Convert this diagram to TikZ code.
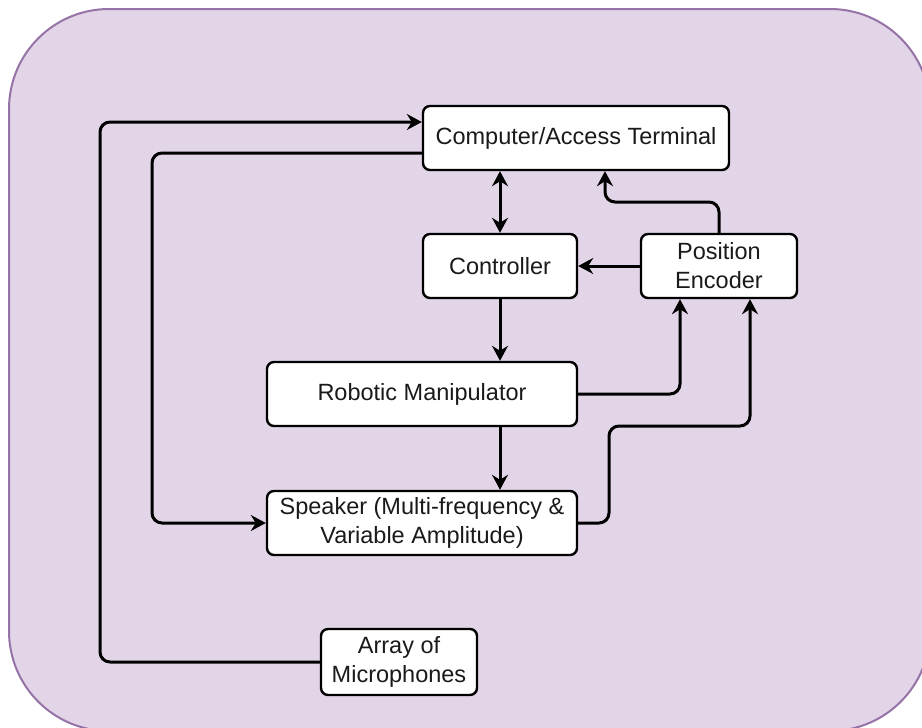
\documentclass[tikz,border=0pt]{standalone}
\usepackage{fontspec}
\setmainfont{Liberation Sans}
\usetikzlibrary{arrows.meta}
\definecolor{panelfill}{HTML}{E1D5E7}
\definecolor{panelline}{HTML}{9673A6}
\definecolor{inktext}{HTML}{1A1A1A}
\tikzset{
  block/.style={draw=black, fill=white, line width=2.4pt, rounded corners=7pt,
    align=center, inner sep=2pt, text=inktext, font=\fontsize{23.5}{29}\selectfont},
  link/.style={draw=black, line width=3pt, rounded corners=10pt},
  tip/.tip={Stealth[length=15pt,width=16pt,inset=5pt]},
  arr/.style={link, -tip},
  darr/.style={link, tip-tip},
}
\begin{document}
\begin{tikzpicture}[x=1pt, y=-1pt]
  \useasboundingbox (0,0) rectangle (922,728);
  \clip (0,0) rectangle (922,728);
  % backdrop panel
  \draw[fill=panelfill, draw=panelline, line width=2pt, rounded corners=100pt]
    (9,9) rectangle (930,731);

  % blocks
  \node[block, minimum width=306pt, minimum height=64pt] (comp) at (576,138) {Computer/Access Terminal};
  \node[block, minimum width=154pt, minimum height=64pt] (ctrl) at (500,266) {Controller};
  \node[block, minimum width=156pt, minimum height=64pt] (enc)  at (719,266) {Position\\Encoder};
  \node[block, minimum width=310pt, minimum height=64pt] (robot) at (422,394) {Robotic Manipulator};
  \node[block, minimum width=310pt, minimum height=64pt] (spk) at (422,523) {Speaker (Multi-frequency \&\\Variable Amplitude)};
  \node[block, minimum width=156pt, minimum height=66pt] (mic) at (399,662) {Array of\\Microphones};

  % connectors
  \draw[arr] (mic.west) -| (100,122) -- (comp.west |- 0,122);
  \draw[arr] (comp.west |- 0,153) -| (152,523) -- (spk.west |- 0,523);
  \draw[darr] (comp.south -| 500,0) -- (ctrl.north -| 500,0);
  \draw[arr] (enc.west) -- (ctrl.east);
  \draw[arr] (enc.north) -- (enc.north |- 0,202) -| (comp.south -| 605,0);
  \draw[arr] (ctrl.south) -- (robot.north -| ctrl.south);
  \draw[arr] (robot.east) -| (enc.south -| 680,0);
  \draw[arr] (robot.south -| 500,0) -- (spk.north -| 500,0);
  \draw[arr] (spk.east) -| (609,426) -| (enc.south -| 750,0);
\end{tikzpicture}
\end{document}
